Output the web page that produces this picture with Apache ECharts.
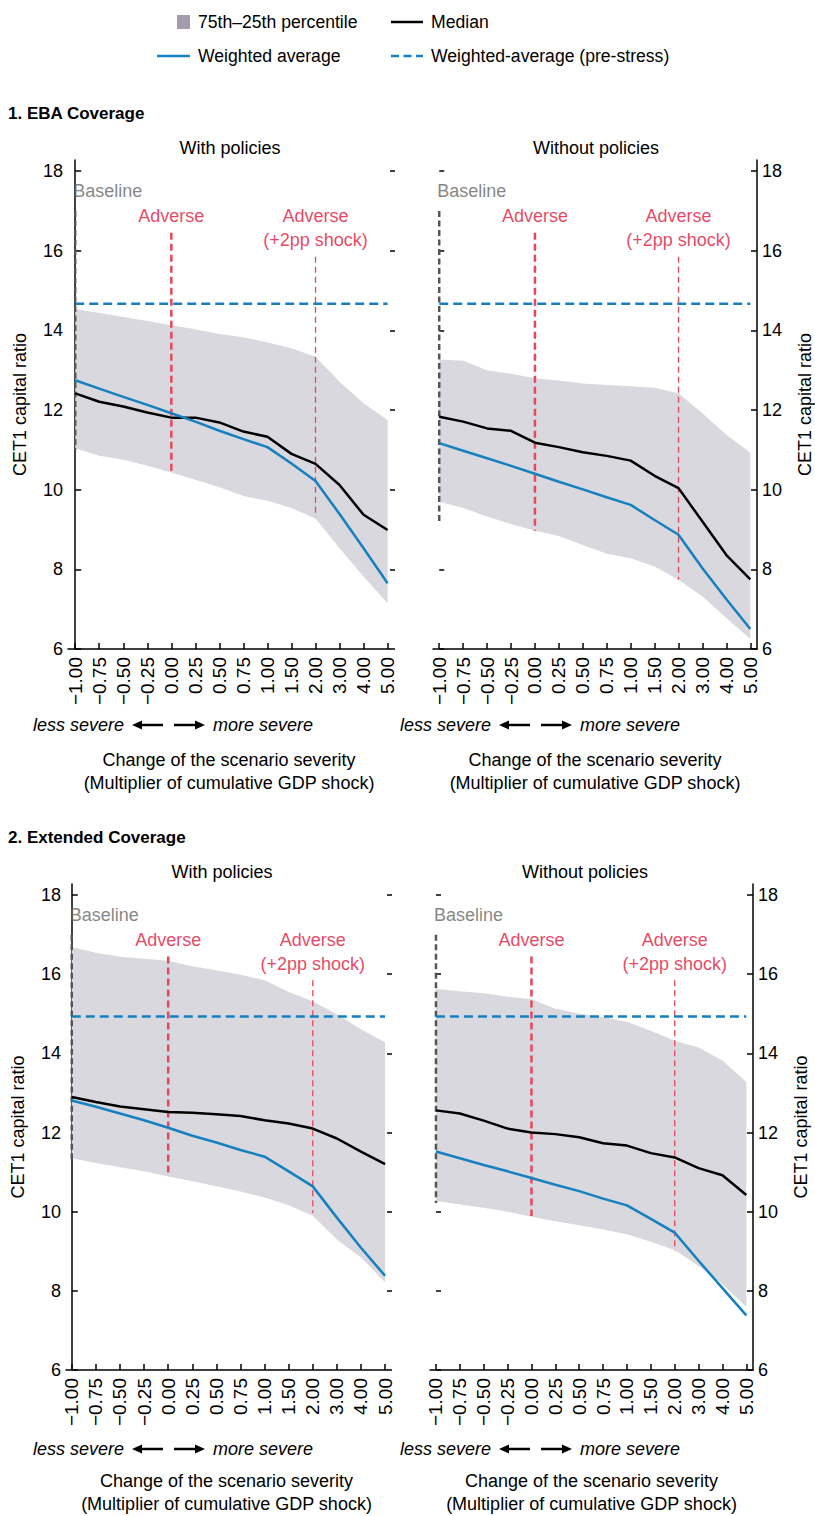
<!DOCTYPE html>
<html>
<head>
<meta charset="utf-8">
<script src="https://cdn.jsdelivr.net/npm/echarts@6/dist/echarts.min.js"></script>
<style>
html,body{margin:0;padding:0;background:#fff;}
#chart{width:815px;height:1516px;}
</style>
</head>
<body>
<div id="chart"></div>
<script>
// ---------- DATA ----------
const xLabels = ['\u22121.00','\u22120.75','\u22120.50','\u22120.25','0.00','0.25','0.50','0.75','1.00','1.50','2.00','3.00','4.00','5.00'];
const yTicks = [6, 8, 10, 12, 14, 16, 18];

// Panel 1: EBA Coverage, with policies
const ebaWithUpper  = [14.54,14.44,14.34,14.24,14.13,14.03,13.91,13.83,13.70,13.55,13.34,12.71,12.17,11.75];
const ebaWithLower  = [11.04,10.85,10.75,10.60,10.43,10.25,10.06,9.84,9.72,9.54,9.28,8.53,7.82,7.15];
const ebaWithMedian = [12.42,12.21,12.09,11.94,11.81,11.81,11.69,11.46,11.33,10.90,10.65,10.12,9.37,8.99];
const ebaWithWavg   = [12.75,12.54,12.33,12.13,11.92,11.71,11.48,11.27,11.07,10.66,10.22,9.39,8.53,7.65];
// Panel 1: EBA Coverage, without policies
const ebaWithoutUpper  = [13.27,13.24,13.00,12.91,12.80,12.74,12.67,12.63,12.60,12.56,12.42,11.92,11.38,10.93];
const ebaWithoutLower  = [9.70,9.54,9.33,9.14,8.97,8.84,8.61,8.39,8.28,8.07,7.74,7.32,6.78,6.25];
const ebaWithoutMedian = [11.83,11.71,11.54,11.48,11.18,11.07,10.94,10.85,10.73,10.35,10.04,9.20,8.36,7.75];
const ebaWithoutWavg   = [11.17,10.98,10.79,10.60,10.40,10.20,10.01,9.81,9.62,9.24,8.87,8.03,7.25,6.50];
// Panel 2: Extended Coverage, with policies
const extWithUpper  = [16.69,16.54,16.44,16.39,16.34,16.20,16.10,15.99,15.85,15.55,15.32,14.99,14.61,14.28];
const extWithLower  = [11.35,11.23,11.12,11.02,10.89,10.77,10.64,10.51,10.36,10.16,9.90,9.30,8.84,8.22];
const extWithMedian = [12.90,12.77,12.66,12.59,12.52,12.50,12.46,12.42,12.31,12.23,12.10,11.85,11.52,11.20];
const extWithWavg   = [12.81,12.65,12.48,12.31,12.12,11.92,11.75,11.56,11.39,11.02,10.64,9.85,9.09,8.38];
// Panel 2: Extended Coverage, without policies
const extWithoutUpper  = [15.63,15.57,15.52,15.43,15.37,15.13,15.01,14.91,14.80,14.57,14.32,14.15,13.82,13.28];
const extWithoutLower  = [10.27,10.18,10.10,10.00,9.87,9.76,9.66,9.55,9.43,9.24,9.03,8.63,8.17,7.59];
const extWithoutMedian = [12.56,12.48,12.30,12.10,12.00,11.96,11.88,11.73,11.67,11.48,11.37,11.10,10.92,10.42];
const extWithoutWavg   = [11.52,11.35,11.18,11.02,10.85,10.68,10.52,10.33,10.16,9.82,9.47,8.76,8.07,7.38];

// Weighted-average (pre-stress) per panel: EBA with, EBA without, Ext with, Ext without
const preStress = [14.67, 14.67, 14.93, 14.93];

// Scenario markers: category index, label, top value
const scenarioIndex = [0, 4, 10];
const scenarioNames = ['Baseline', 'Adverse', 'Adverse\n(+2pp shock)'];
const scenarioTop = [17.0, 16.45, 15.85];
// Bottom of each scenario marker per panel
const scenarioBottom = [
  [11.0, 10.43, 9.31],
  [9.2, 8.97, 7.74],
  [11.27, 10.92, 9.97],
  [10.22, 9.89, 9.01]
];

const panelTitles = ['With policies', 'Without policies', 'With policies', 'Without policies'];
const sectionTitles = ['1. EBA Coverage', '2. Extended Coverage'];
const legendNames = ['75th\u201325th percentile', 'Median', 'Weighted average', 'Weighted-average (pre-stress)'];

// ---------- STYLE / LAYOUT ----------
const FONT = '"Liberation Sans",Arial,Helvetica,sans-serif';
const BAND = '#d9d8de';
const BAND_LEG = '#a29cad';
const BLUE = '#1580c0';
const RED = '#e8475b';
const RED_TXT = '#e4133b';
const GREY_LINE = '#555555';
const GREY_TXT = '#666666';

const panels = [
  {upper: ebaWithUpper, lower: ebaWithLower, median: ebaWithMedian, wavg: ebaWithWavg, side: 'left',
   grid: {left: 68, top: 160, width: 322, height: 489}, xmin: -0.3, xmax: 13.1, title: [230, 148]},
  {upper: ebaWithoutUpper, lower: ebaWithoutLower, median: ebaWithoutMedian, wavg: ebaWithoutWavg, side: 'right',
   grid: {left: 433, top: 160, width: 327, height: 489}, xmin: -0.26, xmax: 13.28, title: [596, 148]},
  {upper: extWithUpper, lower: extWithLower, median: extWithMedian, wavg: extWithWavg, side: 'left',
   grid: {left: 66, top: 884, width: 321, height: 489}, xmin: -0.24, xmax: 13.08, title: [222, 872]},
  {upper: extWithoutUpper, lower: extWithoutLower, median: extWithoutMedian, wavg: extWithoutWavg, side: 'right',
   grid: {left: 430, top: 884, width: 323, height: 489}, xmin: -0.25, xmax: 13.28, title: [585, 872]}
];

const xIdx = xLabels.map((_, i) => i);

const grids = [], xAxes = [], yAxes = [], series = [], graphics = [];

panels.forEach((p, gi) => {
  grids.push(Object.assign({containLabel: false}, p.grid));
  xAxes.push({
    type: 'value', gridIndex: gi, min: p.xmin, max: p.xmax,
    axisLine: {show: true, onZero: false, lineStyle: {color: '#000', width: 1.5}},
    axisTick: {show: true, inside: true, length: 6, customValues: xIdx, lineStyle: {color: '#000', width: 1.5}},
    axisLabel: {show: true, customValues: xIdx, rotate: 90, margin: 8, fontSize: 19, fontFamily: FONT, color: '#000',
      formatter: v => xLabels[Math.round(v)]},
    splitLine: {show: false},
    name: 'Change of the scenario severity\n(Multiplier of cumulative GDP shock)',
    nameLocation: 'middle', nameGap: 99,
    nameTextStyle: {fontSize: 18, lineHeight: 23, fontFamily: FONT, color: '#000'}
  });
  ['left', 'right'].forEach(pos => {
    const full = pos === p.side;
    yAxes.push({
      type: 'value', gridIndex: gi, position: pos, min: 6, max: 18.28,
      axisLine: {show: full, lineStyle: {color: '#000', width: 1.5}},
      axisTick: {show: true, inside: full ? true : pos === 'left', length: full ? 6 : 5,
        customValues: yTicks, lineStyle: {color: '#000', width: 1.5}},
      axisLabel: {show: full, customValues: yTicks, margin: 5, fontSize: 18, fontFamily: FONT, color: '#000'},
      splitLine: {show: false},
      name: full ? 'CET1 capital ratio' : '',
      nameLocation: 'middle', nameRotate: 90, nameGap: 39,
      nameTextStyle: {fontSize: 18, fontFamily: FONT, color: '#000'}
    });
  });
  const yi = gi * 2;
  const band = p.upper.map((v, i) => [i, v, p.lower[i]]);
  series.push({
    type: 'custom', name: legendNames[0], xAxisIndex: gi, yAxisIndex: yi, z: 1,
    data: band, encode: {x: 0, y: [1, 2]},
    renderItem: function (params, api) {
      if (params.dataIndex !== 0) return null;
      const pts = [];
      for (let i = 0; i < band.length; i++) pts.push(api.coord([band[i][0], band[i][1]]));
      for (let i = band.length - 1; i >= 0; i--) pts.push(api.coord([band[i][0], band[i][2]]));
      return {type: 'polygon', shape: {points: pts}, style: {fill: BAND}};
    }
  });
  // scenario vertical lines
  scenarioIndex.forEach((xi, k) => {
    const style = k === 0 ? {color: GREY_LINE, width: 2.5, type: [6, 3.5]}
      : k === 1 ? {color: RED, width: 2.5, type: [7, 4]}
      : {color: RED, width: 1.3, type: [6, 4]};
    series.push({
      type: 'line', xAxisIndex: gi, yAxisIndex: yi, z: 2, symbol: 'none', silent: true,
      data: [[xi, scenarioTop[k]], [xi, scenarioBottom[gi][k]]],
      lineStyle: style
    });
  });
  // scenario labels
  series.push({
    type: 'scatter', xAxisIndex: gi, yAxisIndex: yi, z: 5, symbolSize: 1, silent: true,
    itemStyle: {color: 'rgba(0,0,0,0)'},
    data: scenarioIndex.map((xi, k) => ({
      value: [xi, scenarioTop[k]],
      label: {show: true, position: 'top', distance: k === 0 ? 7 : 4, formatter: scenarioNames[k],
        align: k === 0 ? 'left' : 'center', offset: k === 0 ? [-2, 0] : [0, 0],
        color: k === 0 ? GREY_TXT : RED_TXT, fontSize: 18, lineHeight: 24, fontFamily: FONT}
    }))
  });
  // pre-stress
  series.push({
    type: 'line', name: legendNames[3], xAxisIndex: gi, yAxisIndex: yi, z: 3, symbol: 'none',
    data: [[0, preStress[gi]], [xLabels.length - 1, preStress[gi]]],
    lineStyle: {color: BLUE, width: 2.5, type: [9, 5]}
  });
  series.push({
    type: 'line', name: legendNames[1], xAxisIndex: gi, yAxisIndex: yi, z: 4, symbol: 'none',
    data: p.median.map((v, i) => [i, v]),
    lineStyle: {color: '#000', width: 2.5}
  });
  series.push({
    type: 'line', name: legendNames[2], xAxisIndex: gi, yAxisIndex: yi, z: 4, symbol: 'none',
    data: p.wavg.map((v, i) => [i, v]),
    lineStyle: {color: BLUE, width: 2.5}
  });

  graphics.push({type: 'text', x: p.title[0], y: p.title[1],
    style: {text: panelTitles[gi], font: '18px ' + FONT, fill: '#000', align: 'center', verticalAlign: 'middle'}});
});

// section headings
graphics.push({type: 'text', x: 8, y: 113, style: {text: sectionTitles[0], font: 'bold 17px ' + FONT, fill: '#000', verticalAlign: 'middle'}});
graphics.push({type: 'text', x: 8, y: 837, style: {text: sectionTitles[1], font: 'bold 17px ' + FONT, fill: '#000', verticalAlign: 'middle'}});

// severity direction hints
function arrow(x1, x2, y) {
  const dir = x2 > x1 ? 1 : -1;
  const headLen = 10, headHalf = 4.5;
  graphics.push({type: 'line', shape: {x1: x1, y1: y, x2: x2 - dir * headLen * 0.8, y2: y}, style: {stroke: '#000', lineWidth: 2.5}});
  graphics.push({type: 'polygon', shape: {points: [[x2, y], [x2 - dir * headLen, y - headHalf], [x2 - dir * headLen, y + headHalf]]}, style: {fill: '#000'}});
}
[[33, 725], [400, 725], [33, 1449], [400, 1449]].forEach(([x, y]) => {
  graphics.push({type: 'text', x: x, y: y, style: {text: 'less severe', font: 'italic 18px ' + FONT, fill: '#000', verticalAlign: 'middle'}});
  arrow(x + 130, x + 99, y);
  arrow(x + 141, x + 172, y);
  graphics.push({type: 'text', x: x + 180, y: y, style: {text: 'more severe', font: 'italic 18px ' + FONT, fill: '#000', verticalAlign: 'middle'}});
});

// legend (drawn)
graphics.push({type: 'rect', shape: {x: 177, y: 15, width: 13, height: 14}, style: {fill: BAND_LEG}});
graphics.push({type: 'text', x: 198, y: 22, style: {text: legendNames[0], font: '17.6px ' + FONT, fill: '#000', verticalAlign: 'middle'}});
graphics.push({type: 'line', shape: {x1: 391, y1: 22, x2: 423, y2: 22}, style: {stroke: '#000', lineWidth: 2.5}});
graphics.push({type: 'text', x: 431, y: 22, style: {text: legendNames[1], font: '17.6px ' + FONT, fill: '#000', verticalAlign: 'middle'}});
graphics.push({type: 'line', shape: {x1: 157, y1: 56, x2: 190, y2: 56}, style: {stroke: BLUE, lineWidth: 2.5}});
graphics.push({type: 'text', x: 198, y: 56, style: {text: legendNames[2], font: '17.6px ' + FONT, fill: '#000', verticalAlign: 'middle'}});
graphics.push({type: 'line', shape: {x1: 391, y1: 56, x2: 423, y2: 56}, style: {stroke: BLUE, lineWidth: 2.5, lineDash: [8, 4.5]}});
graphics.push({type: 'text', x: 431, y: 56, style: {text: legendNames[3], font: '17.6px ' + FONT, fill: '#000', verticalAlign: 'middle'}});

const chart = echarts.init(document.getElementById('chart'), null, {renderer: 'svg', width: 815, height: 1516});
chart.setOption({
  animation: false,
  backgroundColor: '#fff',
  textStyle: {fontFamily: FONT},
  grid: grids,
  xAxis: xAxes,
  yAxis: yAxes,
  series: series,
  graphic: graphics
});
</script>
</body>
</html>
